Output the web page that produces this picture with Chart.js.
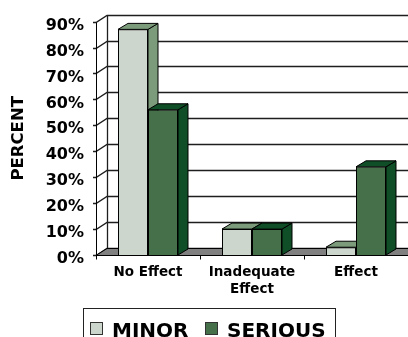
<!DOCTYPE html>
<html>
<head>
<meta charset="utf-8">
<script src="https://cdn.jsdelivr.net/npm/chart.js@4.4.1/dist/chart.umd.min.js"></script>
<style>
  html, body { margin: 0; padding: 0; background: #fff; }
  #wrap { width: 408px; height: 337px; position: relative; }
</style>
</head>
<body>
<div id="wrap"><canvas id="c"></canvas></div>
<script>
// Outcome categories on the x axis
const categories = ['No Effect', ['Inadequate', 'Effect'], 'Effect'];
// Share of cases (%) by severity
const minorValues = [87, 10, 3];
const seriousValues = [56, 10, 34];
// Y axis ticks (percent)
const yTicks = [0, 10, 20, 30, 40, 50, 60, 70, 80, 90];
const seriesNames = ['MINOR', 'SERIOUS'];

const FONT = 'DejaVu Sans';
Chart.defaults.font.family = FONT;
Chart.defaults.color = '#000';

// Colours: front face, top/side face
const faceColors = [
  { front: '#ccd6cc', shade: '#7b9b7b' },
  { front: '#46704a', shade: '#0f4e26' }
];

// Depth offsets for the walls/floor and for the bar prisms
const WALL_DX = 11, WALL_DY = -7;
const BAR_DX = 10, BAR_DY = -6;

function poly(ctx, pts, fill) {
  ctx.beginPath();
  ctx.moveTo(pts[0][0], pts[0][1]);
  for (let i = 1; i < pts.length; i++) ctx.lineTo(pts[i][0], pts[i][1]);
  ctx.closePath();
  if (fill) { ctx.fillStyle = fill; ctx.fill(); }
  ctx.stroke();
}

const box3d = {
  id: 'box3d',
  beforeDatasetsDraw(chart) {
    const ctx = chart.ctx;
    const a = chart.chartArea;
    const ys = chart.scales.y;
    const W = chart.width + 30;
    ctx.save();

    // back wall and side wall gridlines
    ctx.strokeStyle = '#1e1e1e';
    ctx.lineWidth = 1.3;
    yTicks.forEach(v => {
      const py = Math.round(ys.getPixelForValue(v)) + 0.5;
      ctx.beginPath();
      ctx.moveTo(a.left - 3, py);
      ctx.lineTo(a.left, py);
      ctx.lineTo(a.left + WALL_DX, py + WALL_DY);
      ctx.lineTo(W, py + WALL_DY);
      ctx.stroke();
    });
    const top = Math.round(ys.getPixelForValue(yTicks[yTicks.length - 1])) + 0.5;
    const bot = Math.round(ys.getPixelForValue(0)) + 0.5;
    ctx.beginPath();
    ctx.moveTo(a.left + WALL_DX + 0.5, top + WALL_DY);
    ctx.lineTo(a.left + WALL_DX + 0.5, bot + WALL_DY);
    ctx.stroke();

    // floor
    ctx.strokeStyle = '#000';
    ctx.lineWidth = 1;
    poly(ctx, [[a.left, bot], [W, bot], [W + WALL_DX, bot + WALL_DY], [a.left + WALL_DX, bot + WALL_DY]], '#808080');

    // front value axis
    ctx.beginPath();
    ctx.moveTo(a.left + 0.5, top);
    ctx.lineTo(a.left + 0.5, bot);
    ctx.stroke();

    // category tick marks
    const n = chart.data.labels.length;
    const step = (a.right - a.left) / n;
    for (let i = 0; i <= n; i++) {
      const px = Math.round(a.left + i * step) + 0.5;
      ctx.beginPath();
      ctx.moveTo(px, bot);
      ctx.lineTo(px, bot + 4);
      ctx.stroke();
    }

    // top and side faces of each bar (fronts are drawn by the bar controller)
    chart.data.datasets.forEach((ds, di) => {
      const meta = chart.getDatasetMeta(di);
      const shade = faceColors[di].shade;
      meta.data.forEach(bar => {
        const p = bar.getProps(['x', 'y', 'base', 'width'], true);
        const l = p.x - p.width / 2, r = p.x + p.width / 2;
        const t = p.y, b = p.base;
        ctx.strokeStyle = '#000';
        ctx.lineWidth = 1;
        poly(ctx, [[r, t], [r + BAR_DX, t + BAR_DY], [r + BAR_DX, b + BAR_DY], [r, b]], shade);
        poly(ctx, [[l, t], [r, t], [r + BAR_DX, t + BAR_DY], [l + BAR_DX, t + BAR_DY]], shade);
      });
    });
    ctx.restore();
  },
  afterDraw(chart) {
    // legend box below the plot
    const ctx = chart.ctx;
    ctx.save();
    ctx.strokeStyle = '#222';
    ctx.lineWidth = 1;
    ctx.strokeRect(83.5, 308.5, 252, 40);
    ctx.font = 'bold 20px ' + FONT;
    ctx.textBaseline = 'alphabetic';
    ctx.textAlign = 'left';
    const items = [{ x: 90 }, { x: 205 }];
    chart.data.datasets.forEach((ds, i) => {
      const x = items[i].x;
      ctx.fillStyle = ds.backgroundColor;
      ctx.fillRect(x + 0.5, 322.5, 12, 12);
      ctx.strokeStyle = '#333';
      ctx.strokeRect(x + 0.5, 322.5, 12, 12);
      ctx.fillStyle = '#000';
      ctx.fillText(ds.label, x + 22, 337);
    });
    ctx.restore();
  }
};

new Chart(document.getElementById('c'), {
  type: 'bar',
  data: {
    labels: categories,
    datasets: [
      { label: seriesNames[0], data: minorValues, backgroundColor: faceColors[0].front, borderColor: '#000', borderWidth: 1 },
      { label: seriesNames[1], data: seriousValues, backgroundColor: faceColors[1].front, borderColor: '#000', borderWidth: 1 }
    ]
  },
  options: {
    responsive: true,
    maintainAspectRatio: false,
    animation: false,
    layout: { padding: { top: 20, left: 0, right: 0, bottom: 0 } },
    datasets: { bar: { categoryPercentage: 0.577, barPercentage: 1 } },
    plugins: { legend: { display: false }, tooltip: { enabled: false } },
    scales: {
      x: {
        grid: { display: false, drawTicks: false },
        border: { display: false },
        ticks: { font: { size: 13.5, weight: 'bold', lineHeight: 1.25 }, color: '#000', padding: 9, maxRotation: 0, autoSkip: false },
        afterFit(scale) { scale.height = 82; }
      },
      y: {
        min: 0,
        max: 90,
        grid: { display: false, drawTicks: false },
        border: { display: false },
        ticks: {
          stepSize: 10,
          padding: 12,
          labelOffset: 4,
          color: '#000',
          font: { size: 16, weight: 'bold' },
          callback: v => v + '%'
        },
        title: { display: true, text: 'PERCENT', color: '#000', font: { size: 16.5, weight: 'bold' }, padding: { top: 9, bottom: 0 } },
        afterFit(scale) { scale.width = 96; }
      }
    }
  },
  plugins: [box3d]
});
</script>
</body>
</html>
